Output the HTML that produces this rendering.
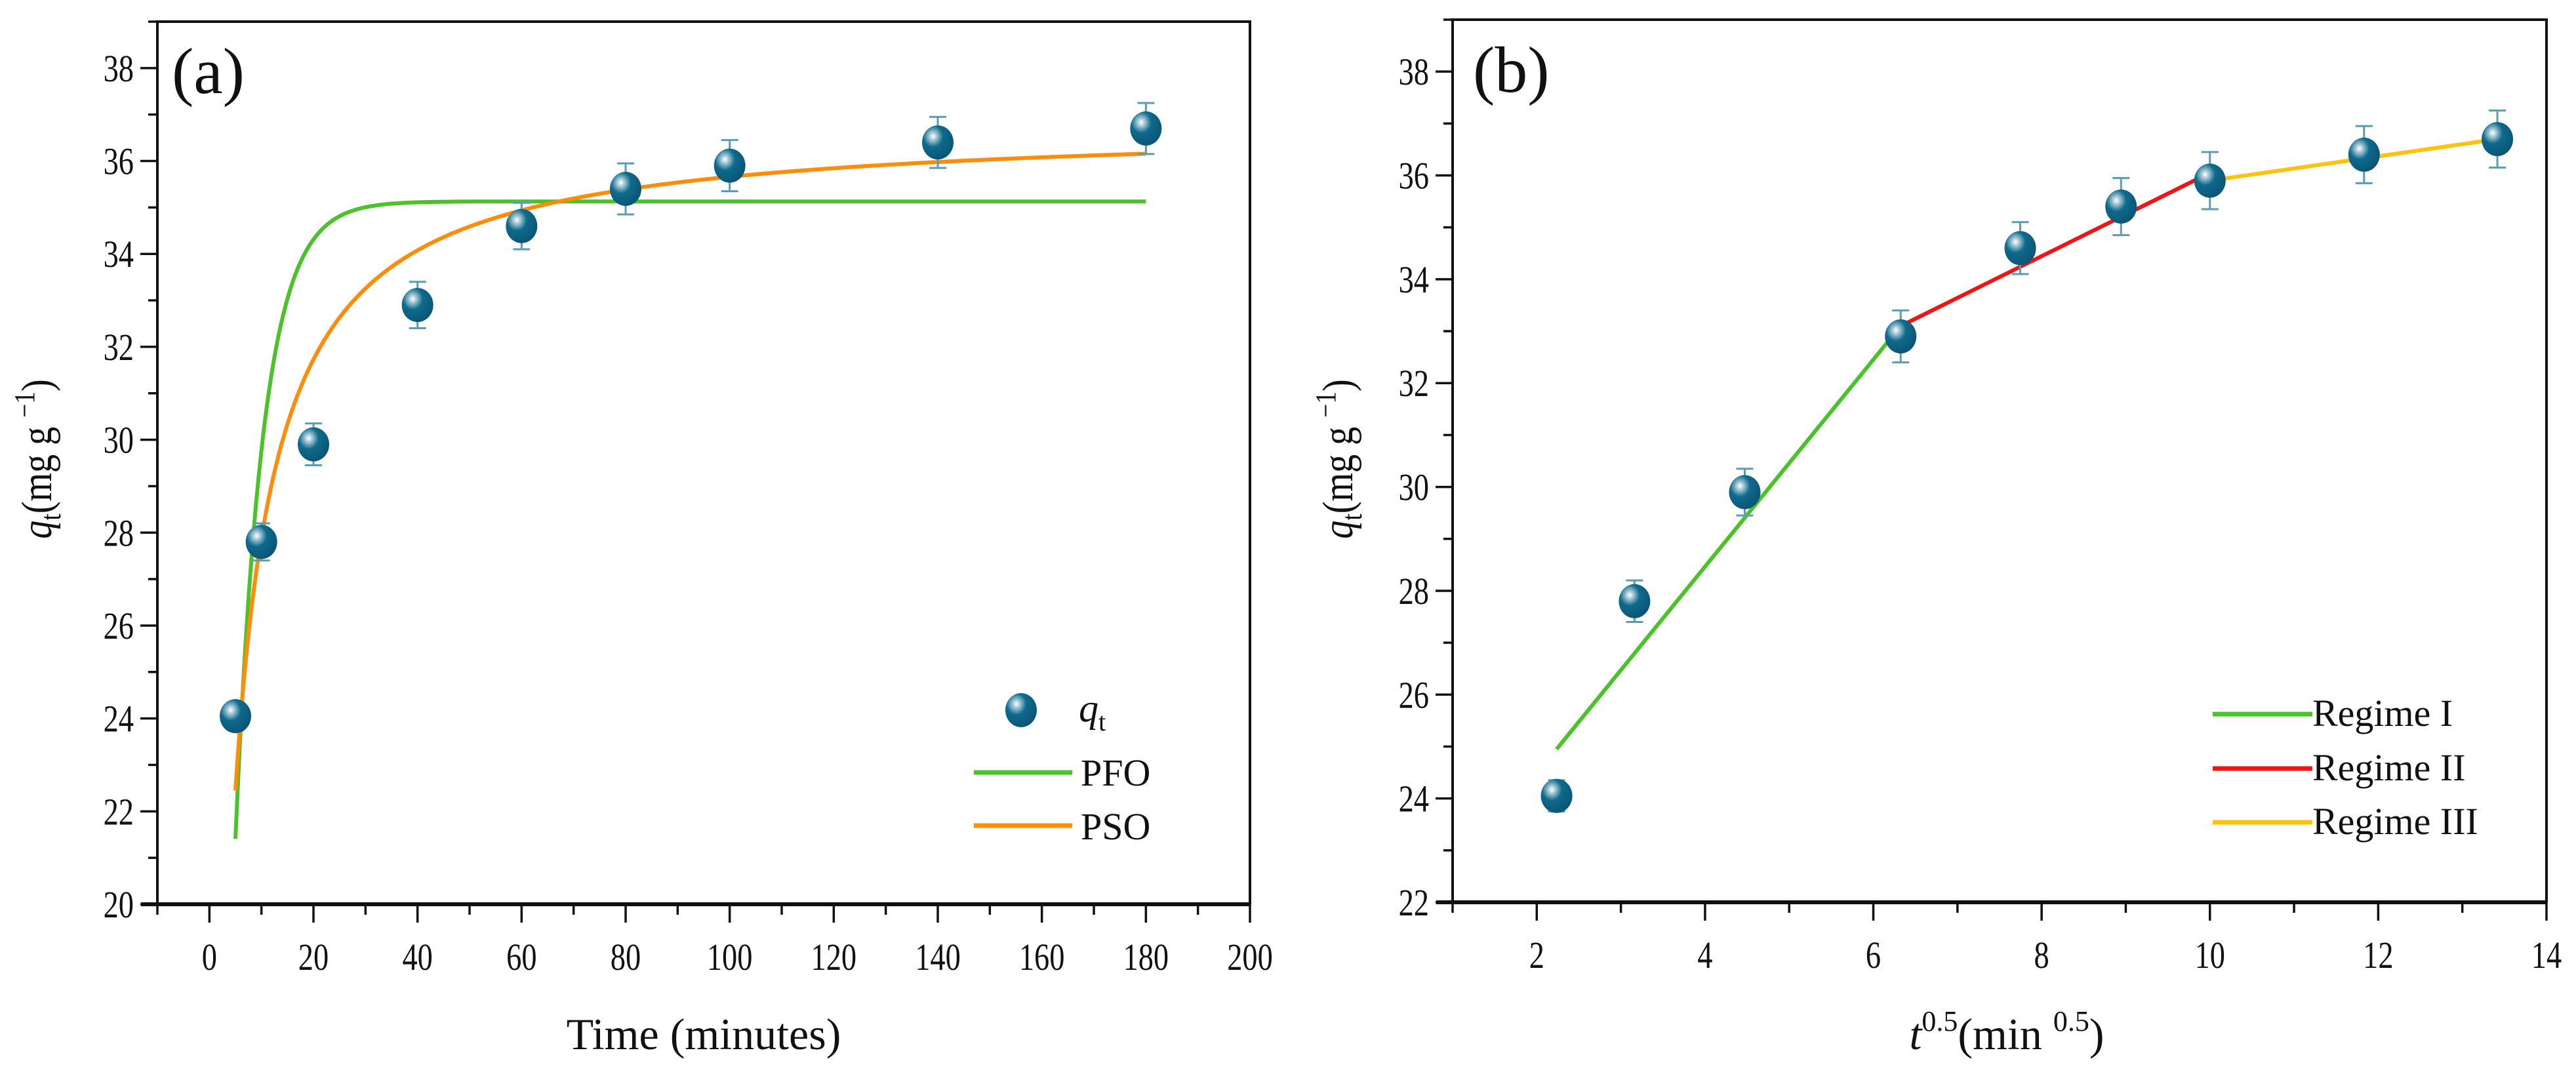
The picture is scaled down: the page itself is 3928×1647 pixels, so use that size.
<!DOCTYPE html>
<html><head><meta charset="utf-8">
<style>
html,body{margin:0;padding:0;background:#fff;}
svg{display:block;}
text{font-family:"Liberation Serif",serif;fill:#111;}
</style></head>
<body>
<svg id="fig" width="3928" height="1647" viewBox="0 0 3928 1647" xmlns="http://www.w3.org/2000/svg">
<defs>
<radialGradient id="ball" cx="0.35" cy="0.32" r="0.7">
<stop offset="0" stop-color="#ffffff"/>
<stop offset="0.18" stop-color="#9cc3d2"/>
<stop offset="0.45" stop-color="#0f6a8c"/>
<stop offset="1" stop-color="#0a5676"/>
</radialGradient>
</defs>
<g id="pa"></g>
<g id="pb"></g>
</svg>
<script>
// ---- Panel (a) data ----
const timeMin = [5, 10, 20, 40, 60, 80, 100, 140, 180];
const qtA = [24.05, 27.8, 29.9, 32.9, 34.6, 35.4, 35.9, 36.4, 36.7];
const errA = [0.3, 0.4, 0.45, 0.5, 0.5, 0.55, 0.55, 0.55, 0.55];
const pfoParams = [35.13, 0.188];   // qe, k1
const psoParams = [36.8, 0.0085];   // qe, k2
const xTicksA = [0, 20, 40, 60, 80, 100, 120, 140, 160, 180, 200];
const yTicksA = [20, 22, 24, 26, 28, 30, 32, 34, 36, 38];
// ---- Panel (b) data ----
const sqrtT = [2.236, 3.162, 4.472, 6.325, 7.746, 8.944, 10.0, 11.832, 13.416];
const qtB = [24.05, 27.8, 29.9, 32.9, 34.6, 35.4, 35.9, 36.4, 36.7];
const errB = [0.3, 0.4, 0.45, 0.5, 0.5, 0.55, 0.55, 0.55, 0.55];
const regime1 = [[2.236, 24.95], [6.325, 33.1]];
const regime2 = [[6.325, 33.1], [10.0, 36.05]];
const regime3 = [[10.0, 35.9], [13.416, 36.7]];
const xTicksB = [2, 4, 6, 8, 10, 12, 14];
const yTicksB = [22, 24, 26, 28, 30, 32, 34, 36, 38];

const NS = "http://www.w3.org/2000/svg";
function mk(parent, tag, attrs, txt){
  const e = document.createElementNS(NS, tag);
  for (const k in attrs) e.setAttribute(k, attrs[k]);
  if (txt !== undefined) e.textContent = txt;
  parent.appendChild(e);
  return e;
}
function axes(g, cfg){
  const {L,R,T,B,xmin,xmax,ymin,ymax} = cfg;
  const sx = v => L + (v - xmin) / (xmax - xmin) * (R - L);
  const sy = v => B - (v - ymin) / (ymax - ymin) * (B - T);
  const frame = mk(g, "path", {d:`M${L},${B} L${L},${T} L${R},${T} L${R},${B}`, fill:"none", stroke:"#111", "stroke-width":4});
  
  
  const xa = mk(g, "line", {x1:L-25, x2:R, y1:B, y2:B, stroke:"#111", "stroke-width":6});
  
  
  const ya = mk(g, "line", {x1:L, x2:L, y1:T, y2:B, stroke:"#111", "stroke-width":4});
  
  
  return {sx, sy};
}
function ticks(g, s, cfg, xt, yt, xminorStep){
  const {L,R,B} = cfg;
  for (let v = cfg.xmin; v <= cfg.xmax + 1e-9; v += xminorStep){
    const x = s.sx(v);
    const major = xt.some(t => Math.abs(t - v) < 1e-6);
    mk(g, "line", {x1:x, x2:x, y1:B, y2:B + (major ? 28 : 16), stroke:"#111", "stroke-width":3.5});
  }
  xt.forEach(v => {
    const t = mk(g, "text", {x:s.sx(v), y:B+100, "font-size":58, "text-anchor":"middle", transform:`translate(${s.sx(v)},0) scale(0.8,1) translate(${-s.sx(v)},0)`}, String(v));
    
    
  });
  for (let v = cfg.ymin; v <= cfg.ymax + 1e-9; v += 1){
    const y = s.sy(v);
    const major = yt.includes(v);
    mk(g, "line", {x1:L - (major ? 26 : 14), x2:L, y1:y, y2:y, stroke:"#111", "stroke-width":3.5});
  }
  yt.forEach(v => {
    const x = L - 36;
    const t = mk(g, "text", {x:x, y:s.sy(v)+20, "font-size":58, "text-anchor":"end", transform:`translate(${x},0) scale(0.8,1) translate(${-x},0)`}, String(v));
    
    
  });
}
function points(g, s, xs, ys, es){
  xs.forEach((xv, i) => {
    const x = s.sx(xv), y = s.sy(ys[i]), yt = s.sy(ys[i] + es[i]), yb = s.sy(ys[i] - es[i]);
    const eb = mk(g, "path", {d:`M${x},${yt} L${x},${yb} M${x-13},${yt} L${x+13},${yt} M${x-13},${yb} L${x+13},${yb}`, stroke:"#5b9cb5", "stroke-width":3, fill:"none"});
    
    
    const c = mk(g, "ellipse", {cx:x, cy:y, rx:24, ry:26, fill:"url(#ball)"});
    
    
  });
}
function curve(g, s, f, x0, x1, color, name){
  let d = "";
  for (let i = 0; i <= 400; i++){
    const xv = x0 + (x1 - x0) * i / 400;
    d += (i ? "L" : "M") + s.sx(xv).toFixed(1) + "," + s.sy(f(xv)).toFixed(1);
  }
  const p = mk(g, "path", {d, fill:"none", stroke:color, "stroke-width":6});
  
  
}
function seg(g, s, pts, color, name){
  const p = mk(g, "line", {x1:s.sx(pts[0][0]), y1:s.sy(pts[0][1]), x2:s.sx(pts[1][0]), y2:s.sy(pts[1][1]), stroke:color, "stroke-width":6});
  
  
}
function ytitle(g, x, y){
  const t = mk(g, "text", {x:0, y:0, "font-size":66, "text-anchor":"middle", transform:`translate(${x},${y}) rotate(-90) scale(0.85,1)`});
  
  
  t.innerHTML = '<tspan font-style="italic">q</tspan><tspan font-size="44" dy="14">t</tspan><tspan dy="-14">(mg g </tspan><tspan font-size="44" dy="-26">−1</tspan><tspan dy="26">)</tspan>';
}

// ---- Panel (a) ----
const ga = document.getElementById("pa");
const cfgA = {L:240, R:1906, T:33, B:1379, xmin:-10, xmax:200, ymin:20, ymax:39};
const sA = axes(ga, cfgA);
ticks(ga, sA, cfgA, xTicksA, yTicksA, 10);
curve(ga, sA, t => pfoParams[0] * (1 - Math.exp(-pfoParams[1] * t)), 5, 180, "#4cc22a", "pfo-curve");
curve(ga, sA, t => psoParams[0]*psoParams[0]*psoParams[1]*t / (1 + psoParams[0]*psoParams[1]*t), 5, 180, "#ff8c0a", "pso-curve");
points(ga, sA, timeMin, qtA, errA);
let t;
t = mk(ga, "text", {x:262, y:142, "font-size":100}, "(a)");
 
t = mk(ga, "text", {x:1073, y:1600, "font-size":68, "text-anchor":"middle"}, "Time (minutes)");
 
ytitle(ga, 78, 700);
// legend a
const la = mk(ga, "g", {});
 
let m = mk(la, "ellipse", {cx:1557, cy:1083, rx:24, ry:26, fill:"url(#ball)"});
 
t = mk(la, "text", {x:1645, y:1100, "font-size":60, "font-style":"italic"});
t.innerHTML = 'q<tspan font-size="40" dy="14" font-style="normal">t</tspan>';
 
m = mk(la, "line", {x1:1485, x2:1635, y1:1178, y2:1178, stroke:"#4cc22a", "stroke-width":7});
 
t = mk(la, "text", {x:1648, y:1198, "font-size":58}, "PFO");
 
m = mk(la, "line", {x1:1485, x2:1635, y1:1259, y2:1259, stroke:"#ff8c0a", "stroke-width":7});
 
t = mk(la, "text", {x:1648, y:1280, "font-size":58}, "PSO");
 

// ---- Panel (b) ----
const gb = document.getElementById("pb");
const cfgB = {L:2215, R:3883, T:30, B:1376, xmin:1, xmax:14, ymin:22, ymax:39};
const sB = axes(gb, cfgB);
ticks(gb, sB, cfgB, xTicksB, yTicksB, 1);
seg(gb, sB, regime1, "#4cc22a", "regime-1-line");
seg(gb, sB, regime2, "#f01414", "regime-2-line");
seg(gb, sB, regime3, "#ffc20e", "regime-3-line");
points(gb, sB, sqrtT, qtB, errB);
t = mk(gb, "text", {x:2246, y:140, "font-size":100}, "(b)");
 
t = mk(gb, "text", {x:3060, y:1600, "font-size":68, "text-anchor":"middle"});
t.innerHTML = '<tspan font-style="italic">t</tspan><tspan font-size="44" dy="-28">0.5</tspan><tspan dy="28">(min </tspan><tspan font-size="44" dy="-28">0.5</tspan><tspan dy="28">)</tspan>';
 
ytitle(gb, 2062, 700);
const lb = mk(gb, "g", {});
 
const legB = [["Regime I", "#4cc22a", 1089], ["Regime II", "#f01414", 1172], ["Regime III", "#ffc20e", 1254]];
legB.forEach(r => {
  const s = mk(lb, "line", {x1:3374, x2:3526, y1:r[2], y2:r[2], stroke:r[1], "stroke-width":7});
  
  
  const tt = mk(lb, "text", {x:3526, y:r[2]+18, "font-size":58}, r[0]);
  
  
});
</script>
</body></html>
